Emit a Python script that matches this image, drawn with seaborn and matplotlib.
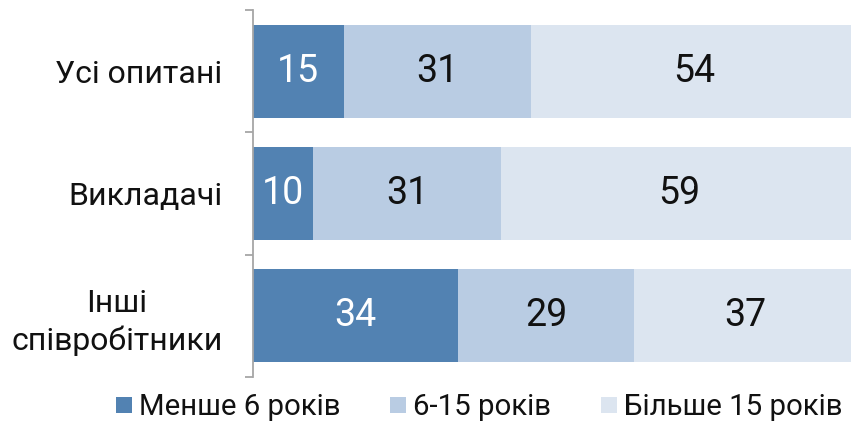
import matplotlib
matplotlib.use("Agg")
import matplotlib.pyplot as plt
import seaborn as sns
import pandas as pd
import numpy as np
from matplotlib.lines import Line2D

categories = ["Усі опитані", "Викладачі", "Інші\nспівробітники"]
series_names = ["Менше 6 років", "6-15 років", "Більше 15 років"]
less6 = [15, 10, 34]
mid6_15 = [31, 31, 29]
more15 = [54, 59, 37]

colors = ["#5282B2", "#B9CCE3", "#DCE5F0"]
text_colors = ["white", "#111111", "#111111"]

sns.set_theme(style="white")
plt.rcParams["font.family"] = ["Roboto", "DejaVu Sans"]

fig = plt.figure(figsize=(8.51, 4.21), dpi=100)
ax = fig.add_axes([253 / 851, 1 - 377 / 421, 604 / 851, 367 / 421])

series = [less6, mid6_15, more15]
cum = np.cumsum(np.array(series), axis=0)
# draw from the largest cumulative to the smallest
for i in range(2, -1, -1):
    df = pd.DataFrame({"cat": categories, "val": cum[i]})
    sns.barplot(data=df, x="val", y="cat", orient="h", color=colors[i],
                saturation=1, width=0.76, ax=ax, linewidth=0)

for i, vals in enumerate(series):
    starts = cum[i] - np.array(vals)
    for j, v in enumerate(vals):
        ax.text(starts[j] + v / 2, j, str(v), ha="center", va="center",
                fontsize=27, color=text_colors[i])

ax.set_xlim(0, 100)
ax.set_ylim(2.5, -0.5)
ax.set_xlabel("")
ax.set_ylabel("")
ax.set_xticks([])
for s in ["top", "right", "bottom"]:
    ax.spines[s].set_visible(False)
ax.spines["left"].set_color("#A6A6A6")
ax.spines["left"].set_linewidth(1.3)

ax.set_yticks([0, 1, 2])
ax.set_yticklabels(categories, fontsize=23, color="#111111")
for lab in ax.get_yticklabels():
    lab.set_multialignment("center")
    lab.set_linespacing(1.3)
ax.tick_params(axis="y", which="major", length=0, pad=22)
ax.set_yticks([-0.5, 0.5, 1.5, 2.5], minor=True)
ax.tick_params(axis="y", which="minor", length=6, width=1.3, color="#A6A6A6", left=True)

handles = [Line2D([], [], marker="s", linestyle="none", markersize=11,
                  markerfacecolor=c, markeredgewidth=0) for c in colors]
fig.legend(handles, series_names, loc="center", bbox_to_anchor=(0.561, 1 - 407 / 421),
           ncol=3, frameon=False, fontsize=21.2, handletextpad=0.12,
           columnspacing=1.55, handlelength=0.8, borderpad=0, labelcolor="#111111")

fig.savefig("out.png", dpi=100)
